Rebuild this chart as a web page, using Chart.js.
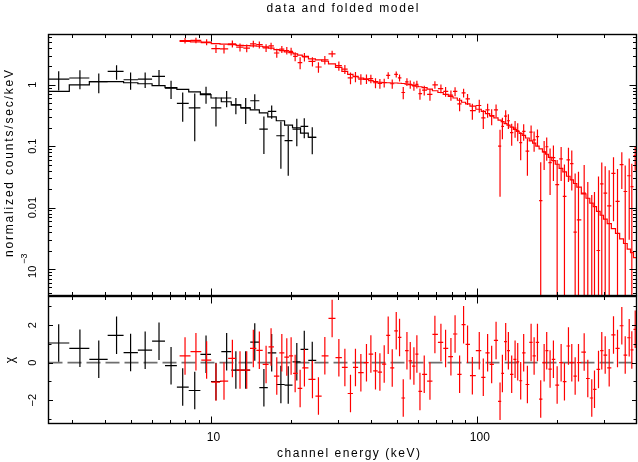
<!DOCTYPE html>
<html lang="en">
<head>
<meta charset="UTF-8">
<title>data and folded model</title>
<style>
  html, body { margin: 0; padding: 0; background: #fff; }
  #wrap { position: relative; width: 638px; height: 462px; }
  #wrap canvas { position: absolute; left: 0; top: 0; }
</style>
</head>
<body>
<div id="wrap">
  <canvas id="specChart" width="638" height="462"></canvas>
  <canvas id="chiChart" width="638" height="462"></canvas>
</div>
<script src="https://cdn.jsdelivr.net/npm/chart.js"></script>
<script>
// first spectrum (black), bin centres in keV
const blackEnergy = [2.68, 3.22, 3.79, 4.42, 4.99, 5.66, 6.38, 7.08, 7.83, 8.69, 9.58, 10.44, 11.45, 12.4, 13.5, 14.6, 15.8, 16.9, 18.3, 19.5, 21.0, 22.4, 24.0];
const blackFlux = [1.24, 1.29, 1.13, 1.65, 1.21, 1.24, 1.37, 0.88, 0.50, 0.42, 0.71, 0.42, 0.61, 0.47, 0.42, 0.55, 0.19, 0.37, 0.148, 0.123, 0.19, 0.21, 0.139];
const blackErr = [0.43, 0.44, 0.40, 0.44, 0.38, 0.35, 0.38, 0.29, 0.25, 0.30, 0.22, 0.21, 0.18, 0.14, 0.19, 0.15, 0.115, 0.09, 0.105, 0.09, 0.09, 0.075, 0.065];
const blackModel = [0.78, 1.0, 1.13, 1.13, 1.08, 1.04, 0.97, 0.9, 0.84, 0.77, 0.69, 0.61, 0.53, 0.47, 0.42, 0.39, 0.35, 0.30, 0.26, 0.22, 0.20, 0.163, 0.14];
const blackChi = [1.05, 0.77, 0.18, 1.46, 0.54, 0.67, 1.15, -0.16, -1.30, -1.48, 0.45, -1.0, 0.59, -0.39, -0.39, 1.1, -1.33, 0.53, -1.16, -1.19, 0.05, 0.71, 0.12];

// second spectrum (red)
const redEnergy = [7.99, 8.78, 9.63, 10.44, 11.19, 12.03, 12.85, 13.62, 14.42, 15.19,
  16.1, 16.81, 17.66, 18.45, 19.26, 19.99, 20.7, 21.61, 22.43, 24.04,
  25.32, 26.76, 28.5, 30.21, 31.82, 33.4, 34.87, 36.54, 38.35, 39.84,
  41.46, 43.07, 44.71, 46.28, 47.92, 49.61, 51.05, 52.71, 54.42, 56.0,
  57.8, 59.3, 60.9, 63.2, 66.4, 69.3, 73.0, 76.0, 79.6, 82.5,
  85.8, 88.8, 91.9, 95.8, 101.7, 105.3, 109.3, 113.2, 117.6, 121.7,
  124.2, 127.8, 130.8, 134.6, 138.6, 141.8, 145.5, 149.3, 154.2, 159.2,
  163.4, 168.2, 173.0, 178.2, 182.2, 187.6, 193.1, 199.4, 206.4, 212.4,
  219.9, 226.3, 233.0, 239.8, 251.9, 259.9, 269.0, 275.4, 285.1, 293.3,
  302.1, 312.7, 324.6, 336.0, 348.8, 359.2, 371.8, 380.3, 391.6];
const redFlux = [5.25, 5.3, 4.95, 3.9, 3.85, 4.65, 4.1, 3.96, 4.65, 4.5,
  4.0, 4.3, 3.3, 3.8, 3.62, 3.5, 2.9, 2.3, 2.85, 2.4,
  1.95, 2.55, 3.2, 2.05, 1.8, 1.3, 1.36, 1.24, 1.25, 1.26,
  1.08, 1.05, 1.08, 1.42, 1.04, 1.48, 1.3, 0.75, 1.12, 1.02,
  0.96, 1.02, 0.72, 0.82, 0.7, 1.0, 0.87, 0.78, 0.68, 0.78,
  0.49, 0.74, 0.59, 0.38, 0.46, 0.29, 0.39, 0.31, 0.39, 0.1,
  0.21, 0.31, 0.26, 0.167, 0.197, 0.178, 0.114, 0.175, 0.083, 0.17,
  0.127, 0.143, 0.013, 0.081, 0.098, 0.054, 0.065, 0.0236, 0.062, 0.0152,
  0.06, 0.052, 0.004, 0.0063, 0.0172, -0.005, -0.02, -0.012, 0.002, 0.0244,
  0.0172, 0.0107, 0.036, 0.0126, 0.05, 0.0183, 0.033, 0.022, 0.07];
const redErr = [0.55, 0.55, 0.55, 0.6, 0.6, 0.6, 0.6, 0.58, 0.58, 0.58,
  0.58, 0.55, 0.55, 0.5, 0.5, 0.5, 0.48, 0.5, 0.45, 0.42,
  0.38, 0.4, 0.4, 0.35, 0.3, 0.28, 0.26, 0.24, 0.22, 0.2,
  0.2, 0.19, 0.18, 0.18, 0.18, 0.17, 0.17, 0.17, 0.16, 0.16,
  0.16, 0.15, 0.15, 0.15, 0.15, 0.14, 0.14, 0.14, 0.13, 0.13,
  0.12, 0.12, 0.12, 0.11, 0.11, 0.1, 0.1, 0.09, 0.09, 0.085,
  0.08, 0.075, 0.07, 0.065, 0.06, 0.058, 0.055, 0.052, 0.05, 0.048,
  0.046, 0.044, 0.042, 0.04, 0.04, 0.038, 0.038, 0.036, 0.035, 0.035,
  0.034, 0.033, 0.032, 0.032, 0.032, 0.031, 0.036, 0.03, 0.03, 0.03,
  0.03, 0.03, 0.03, 0.03, 0.03, 0.03, 0.03, 0.03, 0.03];
const redModel = [5.1, 5.0, 4.85, 4.7, 4.6, 4.5, 4.4, 4.35, 4.3, 4.25,
  4.15, 3.95, 3.75, 3.6, 3.45, 3.35, 3.2, 3.05, 2.9, 2.65,
  2.55, 2.42, 2.2, 1.92, 1.65, 1.48, 1.38, 1.29, 1.22, 1.17,
  1.13, 1.1, 1.09, 1.08, 1.07, 1.07, 1.06, 1.05, 1.03, 1.01,
  0.98, 0.95, 0.93, 0.9, 0.85, 0.8, 0.75, 0.7, 0.65, 0.61,
  0.56, 0.52, 0.49, 0.45, 0.40, 0.37, 0.34, 0.315, 0.29, 0.266,
  0.252, 0.234, 0.22, 0.204, 0.187, 0.175, 0.162, 0.15, 0.136, 0.122,
  0.112, 0.1, 0.0906, 0.0807, 0.074, 0.0658, 0.0583, 0.0508, 0.0436, 0.0382,
  0.0324, 0.0283, 0.0247, 0.0215, 0.0167, 0.0142, 0.0118, 0.0104, 0.0087, 0.0075,
  0.0065, 0.0055, 0.00455, 0.0038, 0.0031, 0.0026, 0.0021, 0.00185, 0.00153];
const redChi = [0.36, 0.59, 0.14, -1.03, -0.98, 0.23, -0.39, -0.39, 0.76, 0.66,
  -0.09, 0.84, -0.71, 0.53, 0.30, 0.36, -0.57, -1.37, -0.27, -0.89,
  -1.78, 0.37, 2.36, 0.27, -0.25, -1.64, -0.25, -0.53, 0, 0.46,
  -0.43, -0.5, -0.07, 1.46, -0.28, 1.7, 1.35, -1.88, 0.64, 0.1,
  -0.18, 0.46, -1.53, -0.62, -0.98, 1.51, 1.08, 0.76, 0.32, 1.53,
  -0.62, 2.03, 0.98, -0.69, 0.64, -0.78, 0.53, -0.09, 1.19, -2.06,
  -0.57, 1.12, 0.64, -0.62, 0.18, 0.05, -0.96, 0.53, -1.16, 1.08,
  0.36, 1.08, -1.94, 0, 0.64, -0.34, 0.18, -1.19, 0, -1.01,
  0.89, 0, -0.71, 0, 0.57, -0.84, -1.88, -1.42, -0.36, 0.64,
  0.41, -0.27, 1.48, 0.76, 1.97, 0.41, 1.33, 0.68, 1.78];

// axes
const xRange = [2.454, 396];
const fluxRange = [3.7e-4, 6.6];
const chiRange = [-3.24, 3.53];
const xMajor = [10, 100];
const xMinor = [3, 4, 5, 6, 7, 8, 9, 20, 30, 40, 50, 60, 70, 80, 90, 200, 300];
const xTickText = ['10', '100'];
const fluxMajor = [1e-3, 0.01, 0.1, 1];
const fluxTickText = ['10|−3', '0.01', '0.1', '1'];
const chiMajor = [-2, 0, 2];
const chiMinor = [-3, -1, 1, 3];
const chiTickText = ['−2', '0', '2'];

const RED = '#ff0000';
const BLACK = '#000000';
const FONT = '"Liberation Sans", Arial, sans-serif';

// bin edges halfway (in log) between neighbouring centres
function edgesOf(c) {
  const e = [];
  for (let i = 0; i < c.length - 1; i++) e[i + 1] = Math.sqrt(c[i] * c[i + 1]);
  e[0] = c[0] * c[0] / e[1];
  e[c.length] = c[c.length - 1] * c[c.length - 1] / e[c.length - 1];
  return e;
}

// error crosses as broken line segments
function crosses(c, v, err, floor) {
  const e = edgesOf(c), pts = [];
  c.forEach((x, i) => {
    const lo = v[i] - err[i], hi = v[i] + err[i];
    if (hi > floor) {
      pts.push({x: x, y: Math.max(lo, floor)}, {x: x, y: hi}, {x: x, y: null});
    }
    if (v[i] > floor) {
      pts.push({x: e[i], y: v[i]}, {x: e[i + 1], y: v[i]}, {x: e[i + 1], y: null});
    }
  });
  return pts;
}

// histogram-style model
function steps(c, m) {
  const e = edgesOf(c), pts = [];
  c.forEach((x, i) => pts.push({x: e[i], y: m[i]}, {x: e[i + 1], y: m[i]}));
  return pts;
}

function spaced(ctx, str, cx, y, width) {
  const chars = [...str];
  const ws = chars.map(ch => ctx.measureText(ch).width);
  const natural = ws.reduce((s, w) => s + w, 0);
  const gap = chars.length > 1 ? (width - natural) / (chars.length - 1) : 0;
  let x = cx - width / 2;
  ctx.textAlign = 'left';
  chars.forEach((ch, i) => { ctx.fillText(ch, x, y); x += ws[i] + gap; });
}

function rotated(ctx, bx, cy, draw) {
  ctx.save();
  ctx.translate(bx, cy);
  ctx.rotate(-Math.PI / 2);
  draw();
  ctx.restore();
}

const pgAxes = {
  id: 'pgAxes',
  afterDraw(chart, args, o) {
    const {ctx, chartArea: a} = chart;
    const xs = chart.scales.x, ys = chart.scales.y;
    ctx.save();
    ctx.strokeStyle = '#000';
    ctx.fillStyle = '#000';
    ctx.lineWidth = 1.4;
    ctx.strokeRect(a.left, a.top, a.right - a.left, a.bottom - a.top);

    ctx.lineWidth = 1;
    ctx.beginPath();
    const xt = (v, len) => {
      const p = Math.round(xs.getPixelForValue(v)) + 0.5;
      if (p <= a.left + 1 || p >= a.right - 1) return;
      ctx.moveTo(p, a.top); ctx.lineTo(p, a.top + len);
      ctx.moveTo(p, a.bottom); ctx.lineTo(p, a.bottom - len);
    };
    const yt = (v, len) => {
      const p = Math.round(ys.getPixelForValue(v)) + 0.5;
      if (p <= a.top + 1 || p >= a.bottom - 1) return;
      ctx.moveTo(a.left, p); ctx.lineTo(a.left + len, p);
      ctx.moveTo(a.right, p); ctx.lineTo(a.right - len, p);
    };
    xMajor.forEach(v => xt(v, 7));
    xMinor.forEach(v => xt(v, 3.5));
    if (o.panel === 'flux') {
      fluxMajor.forEach(v => yt(v, 7));
      [1e-4, 1e-3, 1e-2, 0.1, 1].forEach(d => {
        for (let k = 2; k <= 9; k++) yt(k * d, 3.5);
      });
    } else {
      chiMajor.forEach(v => yt(v, 4.5));
      chiMinor.forEach(v => yt(v, 3));
    }
    ctx.stroke();

    ctx.textBaseline = 'alphabetic';
    if (o.panel === 'flux') {
      ctx.font = '12px ' + FONT;
      spaced(ctx, 'data and folded model', (a.left + a.right) / 2, 12, 152);
      rotated(ctx, 13, 163.5, () => spaced(ctx, 'normalized counts/sec/keV', 0, 0, 187));
      ctx.font = '11px ' + FONT;
      fluxMajor.forEach((v, i) => {
        const py = ys.getPixelForValue(v);
        const parts = fluxTickText[i].split('|');
        rotated(ctx, 35.5, py, () => {
          if (parts.length === 1) {
            ctx.textAlign = 'center';
            ctx.fillText(parts[0], 0, 0);
          } else {
            ctx.textAlign = 'left';
            ctx.font = '11px ' + FONT;
            const w = ctx.measureText(parts[0]).width;
            ctx.fillText(parts[0], -9, 0);
            ctx.font = '9px ' + FONT;
            ctx.fillText(parts[1], -9 + w + 2, -8.5);
          }
        });
      });
    } else {
      ctx.font = '12px ' + FONT;
      rotated(ctx, 14, (a.top + a.bottom) / 2, () => {
        ctx.textAlign = 'center';
        ctx.fillText('χ', 0, 0);
      });
      ctx.font = '11px ' + FONT;
      chiMajor.forEach((v, i) => {
        rotated(ctx, 35.5, ys.getPixelForValue(v), () => {
          ctx.textAlign = 'center';
          ctx.fillText(chiTickText[i], 0, 0);
        });
      });
      ctx.font = '12px ' + FONT;
      ctx.textAlign = 'center';
      xMajor.forEach((v, i) => ctx.fillText(xTickText[i], xs.getPixelForValue(v) + 2.5, 441));
      spaced(ctx, 'channel energy (keV)', 348.5, 457, 143);
    }
    ctx.restore();
  }
};

function lineSet(data, color, order, extra) {
  return Object.assign({data: data, borderColor: color, borderWidth: 1.2, pointRadius: 0,
    tension: 0, fill: false, order: order}, extra || {});
}

const common = {
  responsive: false,
  animation: false,
  events: [],
  parsing: true
};

new Chart(document.getElementById('specChart'), {
  type: 'line',
  data: {
    datasets: [
      lineSet(steps(redEnergy, redModel), RED, 1),
      lineSet(crosses(redEnergy, redFlux, redErr, 1e-7), RED, 2),
      lineSet(steps(blackEnergy, blackModel), BLACK, 3),
      lineSet(crosses(blackEnergy, blackFlux, blackErr, 1e-7), BLACK, 4)
    ]
  },
  options: Object.assign({}, common, {
    layout: {padding: {left: 48.5, top: 34.5, right: 1.5, bottom: 166.5}},
    scales: {
      x: {type: 'logarithmic', min: xRange[0], max: xRange[1], display: false},
      y: {type: 'logarithmic', min: fluxRange[0], max: fluxRange[1], display: false}
    },
    plugins: {legend: {display: false}, tooltip: {enabled: false}, pgAxes: {panel: 'flux'}}
  }),
  plugins: [pgAxes]
});

const chiErr = v => v.map(() => 1);

new Chart(document.getElementById('chiChart'), {
  type: 'line',
  data: {
    datasets: [
      lineSet(crosses(redEnergy, redChi, chiErr(redChi), -Infinity), RED, 1),
      lineSet(crosses(blackEnergy, blackChi, chiErr(blackChi), -Infinity), BLACK, 2),
      lineSet([{x: xRange[0], y: 0}, {x: xRange[1], y: 0}], '#6e6e6e', 3,
        {borderDash: [14, 5], borderWidth: 1.8})
    ]
  },
  options: Object.assign({}, common, {
    layout: {padding: {left: 48.5, top: 296.5, right: 1.5, bottom: 38.5}},
    scales: {
      x: {type: 'logarithmic', min: xRange[0], max: xRange[1], display: false},
      y: {type: 'linear', min: chiRange[0], max: chiRange[1], display: false}
    },
    plugins: {legend: {display: false}, tooltip: {enabled: false}, pgAxes: {panel: 'chi'}}
  }),
  plugins: [pgAxes]
});
</script>
</body>
</html>
